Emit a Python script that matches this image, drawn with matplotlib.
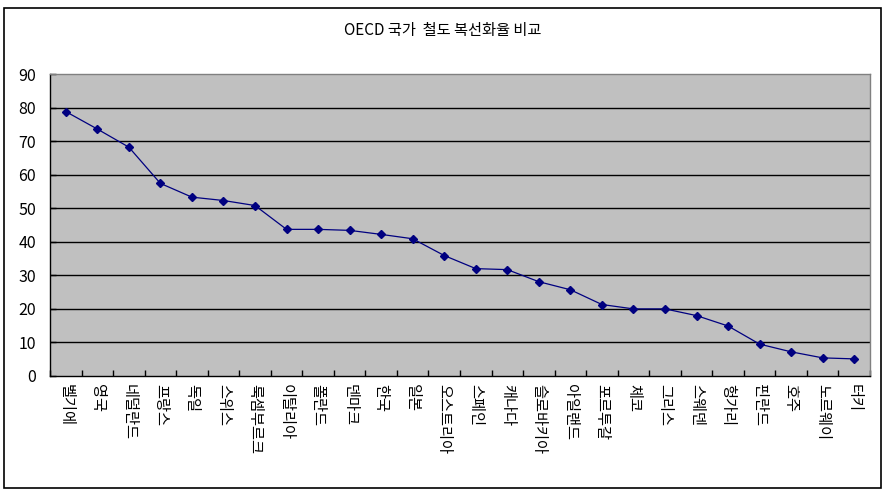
import matplotlib.pyplot as plt
import numpy as np
from matplotlib.patches import Rectangle

plt.rcParams['font.family'] = ['Noto Sans CJK KR', 'DejaVu Sans']

countries = ['벨기에', '영국', '네덜란드', '프랑스', '독일', '스위스', '룩셈부르크',
             '이탈리아', '폴란드', '덴마크', '한국', '일본', '오스트리아', '스페인',
             '캐나다', '슬로바키아', '아일랜드', '포르투갈', '체코', '그리스',
             '스웨덴', '헝가리', '핀란드', '호주', '노르웨이', '터키']
rates = [78.8, 73.6, 68.2, 57.4, 53.3, 52.3, 50.8, 43.7, 43.7, 43.4, 42.2, 40.9,
         35.9, 32.0, 31.7, 28.1, 25.7, 21.3, 20.0, 20.0, 18.0, 14.9, 9.5, 7.2,
         5.4, 5.1]
y_ticks = list(range(0, 91, 10))

fig = plt.figure(figsize=(8.86, 4.94), dpi=100)
ax = fig.add_axes([50 / 886, 1 - 376 / 494, 820 / 886, 302 / 494])

x = np.arange(len(countries))
ax.set_facecolor('#c0c0c0')
ax.plot(x, rates, color='#000080', linewidth=0.9, marker='D', markersize=4.5,
        markerfacecolor='#000080', markeredgecolor='#000080', zorder=3)

ax.set_xlim(-0.5, len(countries) - 0.5)
ax.set_ylim(0, 90)
ax.set_yticks(y_ticks)
ax.set_yticklabels([str(v) for v in y_ticks], fontsize=11.5)
for v in y_ticks[1:-1]:
    ax.axhline(v, color='black', linewidth=1.0, zorder=1)

ax.set_xticks(x)
ax.set_xticklabels(countries, rotation=270, fontsize=11, va='top')
ax.set_xticks(np.arange(len(countries) + 1) - 0.5, minor=True)
ax.tick_params(axis='x', which='major', length=0, pad=6)
ax.tick_params(axis='x', which='minor', length=4, direction='in', width=1)
ax.tick_params(axis='y', length=4, direction='in', width=1, pad=10)

ax.spines['left'].set_color('black')
ax.spines['bottom'].set_color('black')
ax.spines['top'].set_color('#808080')
ax.spines['right'].set_color('#808080')
for s in ax.spines.values():
    s.set_linewidth(1.0)

fig.text(443 / 886, 1 - 30 / 494, 'OECD 국가  철도 복선화율 비교',
         ha='center', va='center', fontsize=11)

fig.patches.append(Rectangle((4 / 886, 1 - 488 / 494), 877 / 886, 480 / 494,
                             transform=fig.transFigure, fill=False,
                             edgecolor='black', linewidth=1.2))

fig.savefig('out.png', dpi=100)
